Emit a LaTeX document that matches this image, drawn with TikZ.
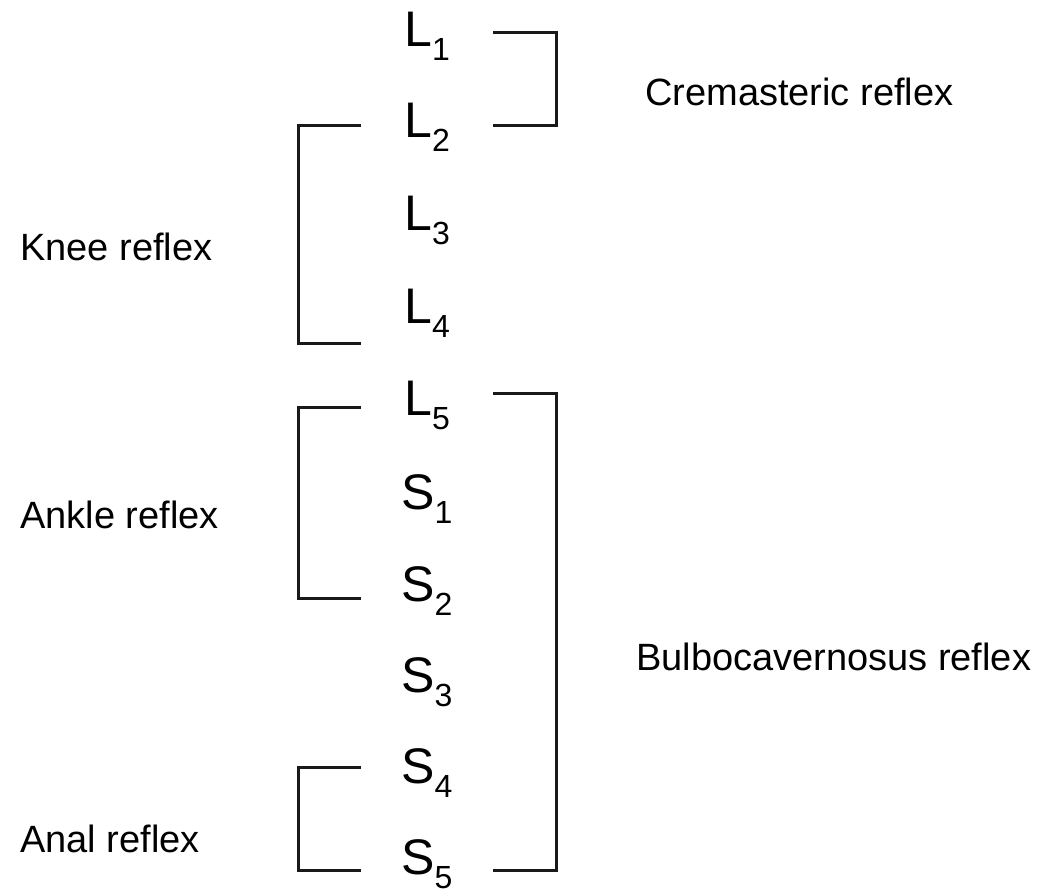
\documentclass[tikz,border=0pt]{standalone}
\usepackage{fontspec}
\setmainfont{Liberation Sans}
\newcommand{\segsub}[1]{{\fontsize{32}{32}\selectfont\raisebox{-14pt}{#1}}}
\begin{document}
\begin{tikzpicture}[x=1pt,y=1pt,
  seg/.style={anchor=base west,inner sep=0pt,font=\fontsize{50}{50}\selectfont},
  lab/.style={anchor=base west,inner sep=0pt,font=\fontsize{38}{38}\selectfont},
  brk/.style={line width=3pt,line join=miter,color=black!90}]
\useasboundingbox (0,0) rectangle (1039,-891);
\fill[white] (0,0) rectangle (1039,-891);
% segment labels
\node[seg] (L1) at (404,-47) {L\segsub{1}};
\node[seg] (L2) at (404,-137) {L\segsub{2}};
\node[seg] (L3) at (404,-230) {L\segsub{3}};
\node[seg] (L4) at (404,-323) {L\segsub{4}};
\node[seg] (L5) at (404,-415) {L\segsub{5}};
\node[seg] (S1) at (401,-509) {S\segsub{1}};
\node[seg] (S2) at (401,-601) {S\segsub{2}};
\node[seg] (S3) at (401,-692) {S\segsub{3}};
\node[seg] (S4) at (401,-783) {S\segsub{4}};
\node[seg] (S5) at (401,-874) {S\segsub{5}};
% reflex labels
\node[lab] (crem) at (645,-105) {Cremasteric reflex};
\node[lab] (knee) at (20,-260) {Knee reflex};
\node[lab] (ankle) at (20,-528) {Ankle reflex};
\node[lab] (bulbo) at (636,-670) {Bulbocavernosus reflex};
\node[lab] (anal) at (20,-852) {Anal reflex};
% bracket end points
\coordinate (c1) at (493,-33);  \coordinate (c2) at (493,-125);
\coordinate (k1) at (361,-125); \coordinate (k2) at (361,-343);
\coordinate (a1) at (361,-407); \coordinate (a2) at (361,-598);
\coordinate (n1) at (361,-767); \coordinate (n2) at (361,-870);
\coordinate (b1) at (493,-393); \coordinate (b2) at (493,-870);
% brackets
\draw[brk] (c1) -- ++(63,0) |- (c2);
\draw[brk] (k1) -- ++(-63,0) |- (k2);
\draw[brk] (a1) -- ++(-63,0) |- (a2);
\draw[brk] (n1) -- ++(-63,0) |- (n2);
\draw[brk] (b1) -- ++(63,0) |- (b2);
\end{tikzpicture}
\end{document}
